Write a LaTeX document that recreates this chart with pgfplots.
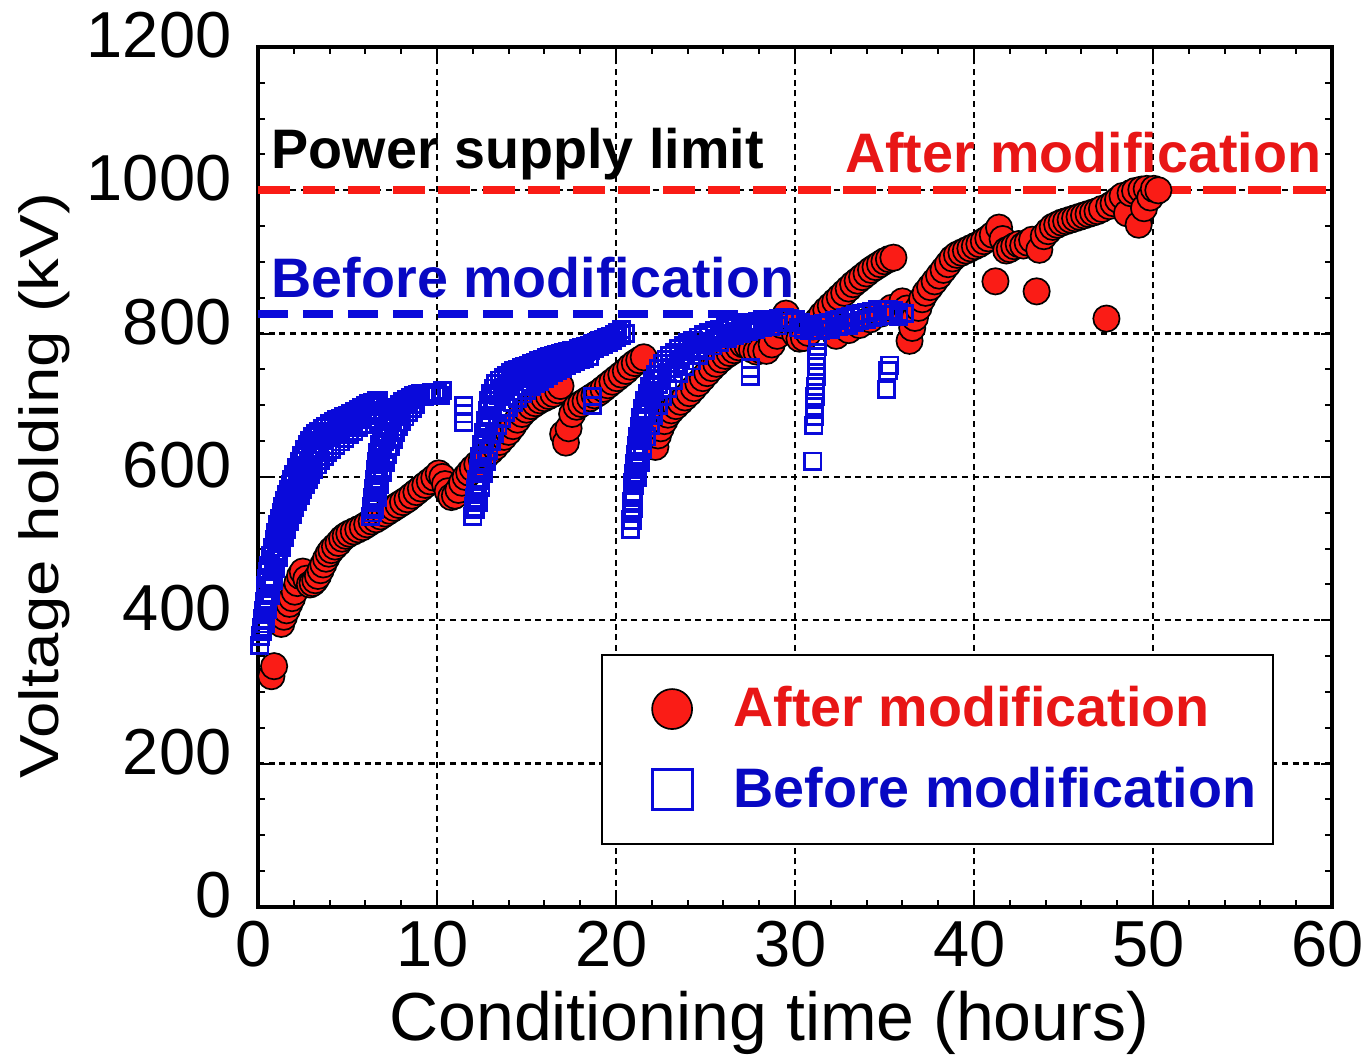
\documentclass[border=0pt]{standalone}
\usepackage{fontspec}
\setmainfont{Liberation Sans}
\usepackage{graphicx}
\usepackage{pgfplots}
\usepackage{pgfplotstable}
\pgfplotsset{compat=1.18}

\definecolor{mkred}{RGB}{250,28,22}
\definecolor{txtred}{RGB}{232,22,22}
\definecolor{mkblue}{RGB}{10,10,218}
\definecolor{txtblue}{RGB}{8,8,195}

% conditioning history after the modification (hours, kV)
\pgfplotstableread{
t v
0.75 322
0.90 336
1.30 395
1.45 405
1.60 414
1.75 423
1.90 431
2.05 440
2.20 452
2.35 462
2.50 468
2.70 458
2.90 450
3.05 452
3.20 456
3.35 462
3.50 470
3.65 478
3.80 486
3.95 493
4.10 498
4.30 503
4.50 508
4.70 514
4.90 518
5.10 521
5.35 524
5.60 527
5.85 530
6.10 534
6.35 538
6.60 541
6.85 545
7.10 549
7.35 553
7.60 557
7.85 561
8.10 565
8.35 569
8.60 574
8.85 579
9.10 584
9.35 589
9.60 594
9.85 599
10.10 605
10.30 600
10.45 590
10.60 580
10.80 572
11.00 574
11.20 582
11.40 592
11.60 600
11.80 606
12.00 612
12.25 618
12.50 624
12.75 630
13.00 636
13.25 642
13.50 649
13.75 656
14.00 663
14.25 671
14.50 680
14.75 688
15.00 694
15.25 699
15.50 703
15.75 707
16.00 710
16.25 713
16.50 716
16.75 721
16.90 727
17.05 660
17.20 648
17.35 668
17.55 688
17.80 698
18.05 702
18.30 706
18.55 710
18.80 714
19.05 718
19.30 723
19.55 728
19.80 733
20.05 738
20.30 743
20.55 748
20.80 754
21.05 759
21.30 763
21.55 767
22.20 642
22.35 658
22.50 668
22.70 678
22.90 687
23.10 693
23.35 699
23.60 705
23.85 711
24.10 717
24.35 724
24.60 731
24.85 738
25.10 745
25.35 752
25.60 758
25.85 764
26.10 769
26.35 773
26.60 777
26.85 781
27.10 785
27.35 783
27.60 778
27.85 775
28.10 777
28.40 776
28.70 785
29.00 797
29.25 812
29.50 828
29.75 815
30.00 800
30.25 793
30.50 794
30.75 801
31.00 810
31.25 818
31.50 826
31.75 833
32.00 839
32.25 845
32.50 851
32.75 857
33.00 863
33.25 869
33.50 874
33.75 879
34.00 884
34.25 889
34.50 893
34.75 897
35.00 901
35.25 904
35.50 906
32.30 797
33.00 805
33.60 812
34.20 820
34.80 828
35.40 836
36.00 845
36.25 835
36.40 790
36.55 808
36.70 822
36.90 836
37.10 848
37.30 857
37.55 865
37.80 873
38.05 881
38.30 889
38.55 897
38.80 905
39.05 910
39.30 913
39.55 916
39.80 919
40.05 922
40.30 925
40.55 929
40.80 933
41.05 938
41.20 873
41.40 948
41.60 932
41.80 916
42.00 918
42.25 922
42.50 925
42.75 923
43.00 927
43.25 931
43.50 859
43.65 917
43.90 936
44.15 943
44.40 949
44.65 952
44.90 955
45.15 957
45.40 959
45.65 961
45.90 963
46.15 965
46.40 967
46.65 969
46.90 971
47.15 974
47.40 821
47.55 978
47.80 982
48.05 987
48.30 992
48.55 968
48.75 996
49.00 999
49.20 952
49.35 1001
49.50 975
49.65 1002
49.85 990
50.05 1002
50.30 1000
}\afterdata

% conditioning history before the modification (hours, kV)
\pgfplotstableread{
t v
0.10 365
0.15 378
0.20 390
0.25 402
0.30 414
0.35 426
0.40 437
0.45 448
0.50 458
0.55 468
0.60 477
0.70 490
0.80 502
0.90 513
1.00 523
1.10 533
1.20 542
1.30 551
1.40 559
1.50 567
1.60 575
1.70 583
1.80 590
1.90 597
2.00 604
2.15 613
2.30 622
2.45 630
2.60 638
2.75 645
2.90 651
3.05 656
3.20 660
3.40 664
3.60 668
3.80 671
4.00 674
4.20 677
4.40 680
4.60 682
4.80 684
5.00 686
5.20 688
5.40 691
5.60 694
5.80 697
6.00 700
6.20 702
6.40 704
6.60 706
6.75 707
0.25 385
0.35 400
0.45 415
0.55 430
0.65 445
0.75 460
0.85 473
0.95 485
1.05 497
1.15 508
1.25 518
1.35 528
1.45 537
1.55 546
1.65 554
1.75 562
1.85 570
1.95 577
2.05 584
2.20 593
2.35 601
2.50 609
2.65 616
2.80 623
2.95 629
3.10 635
3.25 640
3.45 646
3.65 651
3.85 655
4.05 659
4.30 663
4.55 667
4.80 670
5.05 673
5.30 676
5.55 680
5.80 684
6.05 688
6.30 693
6.50 698
6.70 702
0.40 395
0.55 415
0.70 435
0.85 455
1.00 472
1.15 488
1.30 502
1.45 515
1.60 527
1.75 538
1.90 548
2.05 557
2.20 566
2.35 574
2.50 582
2.65 590
2.80 597
2.95 604
3.10 610
3.30 617
3.50 623
3.70 629
3.90 634
4.10 639
4.35 644
4.60 649
4.85 654
5.10 659
5.35 664
5.60 669
5.85 674
6.10 680
6.35 686
6.55 692
6.30 545
6.35 558
6.40 571
6.45 584
6.50 597
6.55 610
6.60 622
6.70 634
6.80 645
6.90 655
7.00 663
7.15 671
7.30 679
7.45 686
7.60 692
7.75 697
7.90 701
8.10 705
8.30 708
8.50 711
8.70 713
8.90 715
9.10 716
9.40 717
9.70 718
10.00 718
10.20 714
10.30 721
6.40 550
6.50 565
6.58 580
6.66 595
6.75 610
6.85 625
6.95 638
7.05 650
7.20 660
7.35 669
7.50 677
7.65 685
7.80 691
7.95 696
8.15 701
8.35 705
8.55 708
8.75 710
9.00 712
9.30 713
9.60 714
9.90 715
6.50 555
6.65 572
6.80 590
6.95 606
7.10 620
7.25 632
7.40 643
7.55 653
7.70 662
7.85 670
8.00 677
8.20 684
8.40 690
8.60 696
8.80 701
11.50 700
11.50 688
11.50 676
12.00 545
12.05 558
12.10 571
12.15 584
12.20 597
12.30 612
12.40 628
12.50 645
12.60 662
12.70 678
12.80 693
12.90 706
13.00 716
13.15 724
13.30 730
13.50 735
13.70 739
13.90 742
14.10 745
14.30 748
14.50 750
14.70 752
14.90 754
15.10 756
15.30 758
15.50 760
15.70 762
15.90 764
16.10 766
16.30 768
16.50 769
16.70 771
16.90 772
17.10 774
17.30 775
17.50 776
17.70 777
17.90 779
18.10 780
18.30 782
18.50 784
18.70 786
18.90 788
19.10 790
19.30 792
19.50 794
19.70 796
19.90 799
20.10 802
20.30 806
20.50 800
12.15 555
12.25 575
12.35 595
12.45 612
12.55 630
12.65 646
12.75 660
12.85 674
12.95 686
13.10 697
13.25 706
13.45 714
13.65 720
13.85 725
14.05 729
14.30 733
14.55 737
14.80 740
15.05 743
15.30 746
15.55 749
15.80 752
16.05 755
16.30 757
16.55 759
16.80 762
17.05 764
17.30 766
17.55 768
17.80 771
18.05 773
18.30 775
18.55 777
18.80 780
19.05 782
19.30 785
19.55 788
19.80 791
20.05 795
20.30 798
12.30 565
12.45 585
12.60 605
12.75 622
12.90 637
13.05 650
13.20 661
13.40 672
13.60 682
13.80 690
14.00 697
14.25 704
14.50 710
14.75 716
15.00 721
15.25 726
15.50 730
15.75 734
16.00 738
16.25 742
16.50 746
16.75 749
17.00 752
17.25 755
17.50 758
17.75 761
18.00 764
18.25 766
18.50 768
18.70 700
18.70 712
20.80 527
20.83 540
20.86 553
20.89 566
20.92 579
20.95 592
21.00 605
21.05 618
21.10 631
21.15 644
21.20 657
21.30 670
21.40 683
21.50 695
21.60 706
21.75 716
21.90 726
22.05 735
22.20 743
22.40 751
22.60 758
22.80 764
23.00 769
23.25 774
23.50 779
23.75 783
24.00 787
24.30 791
24.60 795
24.90 798
25.20 801
25.50 804
25.80 806
26.10 808
26.40 810
26.70 812
27.00 813
27.30 815
27.60 816
27.90 817
28.20 818
28.50 819
28.80 820
29.10 821
29.40 822
29.70 821
30.00 819
30.30 816
30.60 813
20.90 540
20.95 556
21.00 572
21.05 588
21.12 604
21.20 620
21.28 636
21.36 651
21.45 665
21.55 678
21.68 690
21.82 701
21.98 711
22.15 720
22.35 729
22.55 737
22.80 745
23.05 752
23.30 758
23.60 764
23.90 770
24.20 775
24.50 780
24.85 785
25.20 789
25.55 793
25.90 797
26.25 800
26.60 803
26.95 806
27.30 808
27.65 810
28.00 812
28.35 814
28.70 815
29.05 816
29.40 816
21.20 600
21.35 620
21.50 638
21.70 656
21.90 672
22.10 686
22.35 700
22.60 712
22.90 724
23.20 735
23.50 745
23.85 754
24.20 762
24.60 770
25.00 777
25.40 783
25.80 788
26.20 793
26.60 797
27.00 800
27.40 803
27.80 806
28.20 808
28.60 810
29.00 811
27.50 741
27.50 752
31.00 622
31.05 672
31.08 685
31.10 698
31.12 712
31.15 726
31.18 740
31.20 754
31.22 768
31.25 782
31.28 796
31.00 810
31.30 812
31.60 814
31.90 816
32.20 818
32.50 820
32.80 822
33.10 824
33.40 826
33.70 828
34.00 829
34.30 831
34.60 833
34.90 834
35.20 833
35.50 832
35.80 830
36.10 828
30.20 808
30.50 806
30.80 805
31.40 804
31.70 806
32.00 806
32.40 810
32.70 812
33.00 812
33.30 816
33.60 818
34.00 820
34.30 822
34.60 824
35.00 826
35.40 826
35.80 824
35.10 722
35.20 748
35.30 756
}\beforedata

\begin{document}
\begin{tikzpicture}
\path[use as bounding box] (-77.4pt,-45.3pt) rectangle (332.7pt,272.1pt);
\begin{axis}[
  at={(0pt,0pt)}, anchor=south west,
  scale only axis, width=322.2pt, height=258pt,
  xmin=0, xmax=60, ymin=0, ymax=1200,
  xtick={0,10,...,60}, ytick={0,200,...,1200},
  minor x tick num=4, minor y tick num=3,
  tick align=inside, xtick pos=both, ytick pos=both,
  major tick length=3.2pt, minor tick length=2pt,
  every tick/.style={black, line width=0.6pt},
  axis line style={black, line width=1.2pt},
  grid=major,
  major grid style={black, line width=0.7pt, dash pattern=on 1.8pt off 1.4pt},
  clip=false,
  /pgf/number format/assume math mode=true,
  /pgf/number format/1000 sep={},
  tick label style={font=\fontsize{19.5}{20}\selectfont},
  yticklabel style={anchor=east, inner sep=0pt, xshift=-7.8pt, yshift=3.6pt},
  xticklabel style={anchor=north, inner sep=0pt, yshift=-3.9pt, xshift=-1.2pt},
  xlabel={Conditioning time (hours)},
  ylabel={\scalebox{1.19}[1]{Voltage holding (kV)}},
  xlabel style={at={(axis description cs:0.476,-0.155)}, anchor=base,
    font=\fontsize{20.4}{24}\selectfont},
  ylabel style={at={(axis description cs:-0.199,0.49)}, anchor=center,
    font=\fontsize{16.5}{20}\selectfont},
  legend style={at={(0.946,0.072)}, anchor=south east,
    draw=black, line width=0.6pt, fill=white,
    inner xsep=5pt, inner ysep=9.5pt, row sep=10.6pt,
    nodes={inner sep=0pt},
    font=\fontsize{16.7}{18}\selectfont\bfseries,
    /tikz/every odd column/.append style={column sep=12pt}},
  legend cell align=left,
]
\addplot[only marks, mark=*, mark size=3.95pt,
  mark options={fill=mkred, draw=black, line width=0.5pt},
  legend image code/.code={
    \path[draw=none] (-16pt,0pt) -- (6pt,0pt);
    \draw[fill=mkred, draw=black, line width=0.5pt] (0pt,0pt) circle (6pt);}]
  table[x=t, y=v] {\afterdata};
\addlegendentry{\textcolor{txtred}{After modification}}

\addplot[only marks, mark=square, mark size=2.45pt,
  mark options={draw=mkblue, line width=0.85pt},
  legend image code/.code={
    \path[draw=none] (-16pt,0pt) -- (6pt,0pt);
    \draw[draw=mkblue, line width=0.9pt] (-6pt,-6pt) rectangle (6pt,6pt);}]
  table[x=t, y=v] {\beforedata};
\addlegendentry{\textcolor{txtblue}{Before modification}}

% voltage limits of the power supply
\addplot[forget plot, mkred, line width=2.4pt, dash pattern=on 9.75pt off 3.75pt]
  coordinates {(0,1000) (59.7,1000)};
\addplot[forget plot, mkblue, line width=2.4pt, dash pattern=on 9pt off 4.5pt]
  coordinates {(0,827) (29.7,827)};

\node[anchor=base west, inner sep=0pt, font=\fontsize{16.7}{18}\selectfont\bfseries]
  at (axis cs:0.73,1031) {Power supply limit};
\node[anchor=base east, inner sep=0pt, text=txtred, font=\fontsize{16.7}{18}\selectfont\bfseries]
  at (axis cs:59.44,1025) {After modification};
\node[anchor=base west, inner sep=0pt, text=txtblue, font=\fontsize{16.7}{18}\selectfont\bfseries]
  at (axis cs:0.73,851) {Before modification};
\end{axis}
\end{tikzpicture}
\end{document}
